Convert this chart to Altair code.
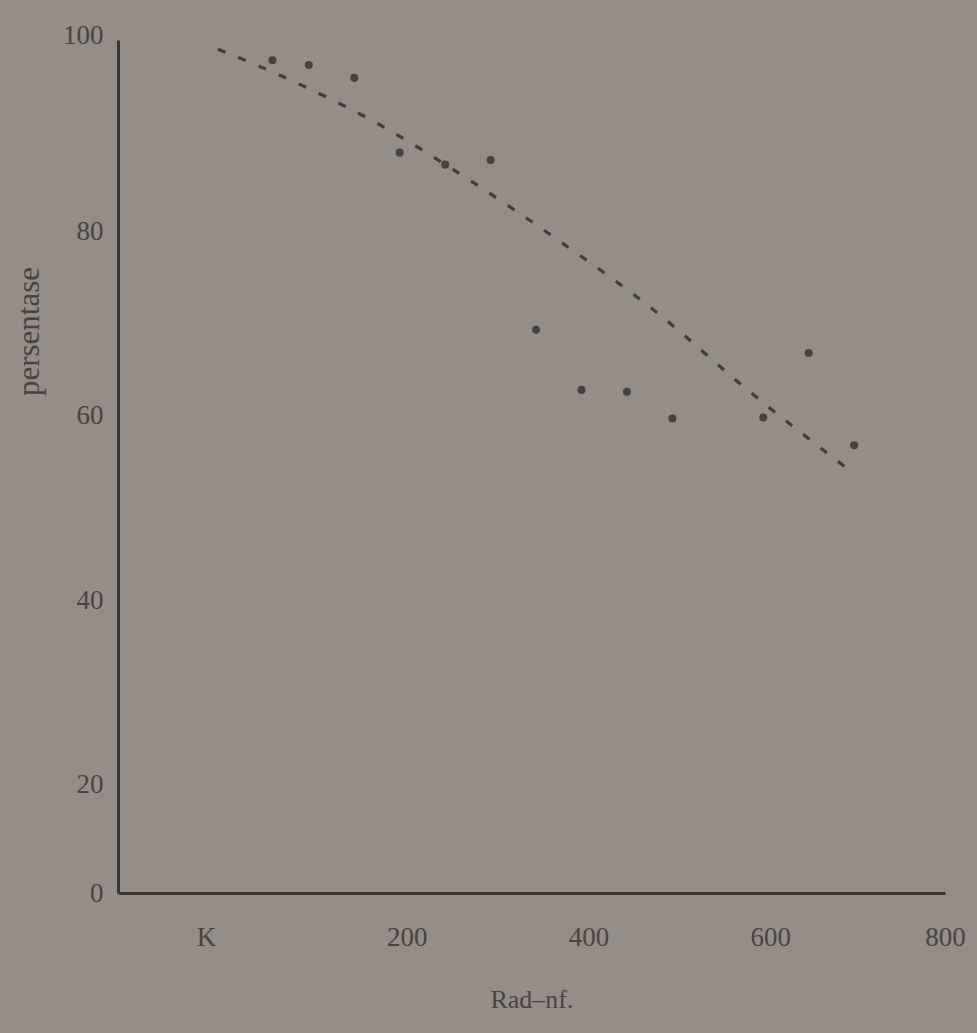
import altair as alt
import pandas as pd

# Radiation dose (K = control at 0) against percentage
dose = [60, 100, 150, 200, 250, 300, 350, 400, 450, 500, 600, 650, 700]
percent = [98.5, 98.0, 96.6, 88.5, 87.2, 87.7, 69.3, 62.8, 62.6, 59.7, 59.8, 66.8, 56.8]

# Hand-drawn trend curve through the scatter
trend_dose = [0, 79, 182, 274, 379, 484, 579, 700]
trend_percent = [99.7, 96.4, 91.3, 85.7, 78.7, 71.1, 63.1, 53.7]

x_ticks = [0, 200, 400, 600, 800]
y_ticks = [8.3, 20, 40, 60, 80, 100]

pts = pd.DataFrame({"dose": dose, "percent": percent})
trend = pd.DataFrame({"dose": trend_dose, "percent": trend_percent})

FONT = "Liberation Serif"
INK = "#3b3532"
TEXT = "#4a4340"

x_scale = alt.Scale(domain=[-110, 800], nice=False, zero=False)
y_scale = alt.Scale(domain=[8.3, 100.7], nice=False, zero=False)

x_axis = alt.Axis(
    values=x_ticks,
    labelExpr="datum.value == 0 ? 'K' : datum.label",
    labelOffset={
        "condition": [
            {"test": "datum.value == 0", "value": -12},
            {"test": "datum.value > 0 && datum.value < 800", "value": 7},
        ],
        "value": 0,
    },
    title="Rad–nf.",
    titleFont=FONT, titleFontSize=26, titleFontWeight="normal", titleColor=TEXT,
    titlePadding=36,
    labelFont=FONT, labelFontSize=27, labelColor=TEXT, labelPadding=31,
    ticks=False, grid=False,
    domainColor=INK, domainWidth=3,
    labelFlush=False,
)
y_axis = alt.Axis(
    values=y_ticks,
    labelExpr="datum.value < 10 ? '0' : datum.label",
    labelOffset={"condition": {"test": "datum.value == 100", "value": -11}, "value": 0},
    title="persentase",
    titleFont=FONT, titleFontSize=31, titleFontWeight="normal", titleColor=TEXT,
    titleX=-89, titleY=291, titleAngle=-90, titleAlign="center", titleBaseline="middle",
    labelFont=FONT, labelFontSize=27, labelColor=TEXT, labelPadding=15,
    ticks=False, grid=False,
    domainColor=INK, domainWidth=3,
    labelFlush=False,
)

line = alt.Chart(trend).mark_line(
    color=INK, strokeWidth=3.2, strokeDash=[8, 14], opacity=0.9, interpolate="monotone"
).encode(
    x=alt.X("dose:Q", scale=x_scale, axis=x_axis),
    y=alt.Y("percent:Q", scale=y_scale, axis=y_axis),
)

dots = alt.Chart(pts).mark_circle(
    color=INK, size=65, opacity=0.85
).encode(
    x=alt.X("dose:Q", scale=x_scale),
    y=alt.Y("percent:Q", scale=y_scale),
)

chart = alt.layer(line, dots).properties(
    width=827,
    height=853,
    autosize=alt.AutoSizeParams(type="none"),
    padding={"left": 118, "top": 40, "right": 32, "bottom": 140},
    background="#958d88",
).configure_view(stroke=None)

chart.save("out.html", embed_options={"renderer": "svg", "actions": False})
